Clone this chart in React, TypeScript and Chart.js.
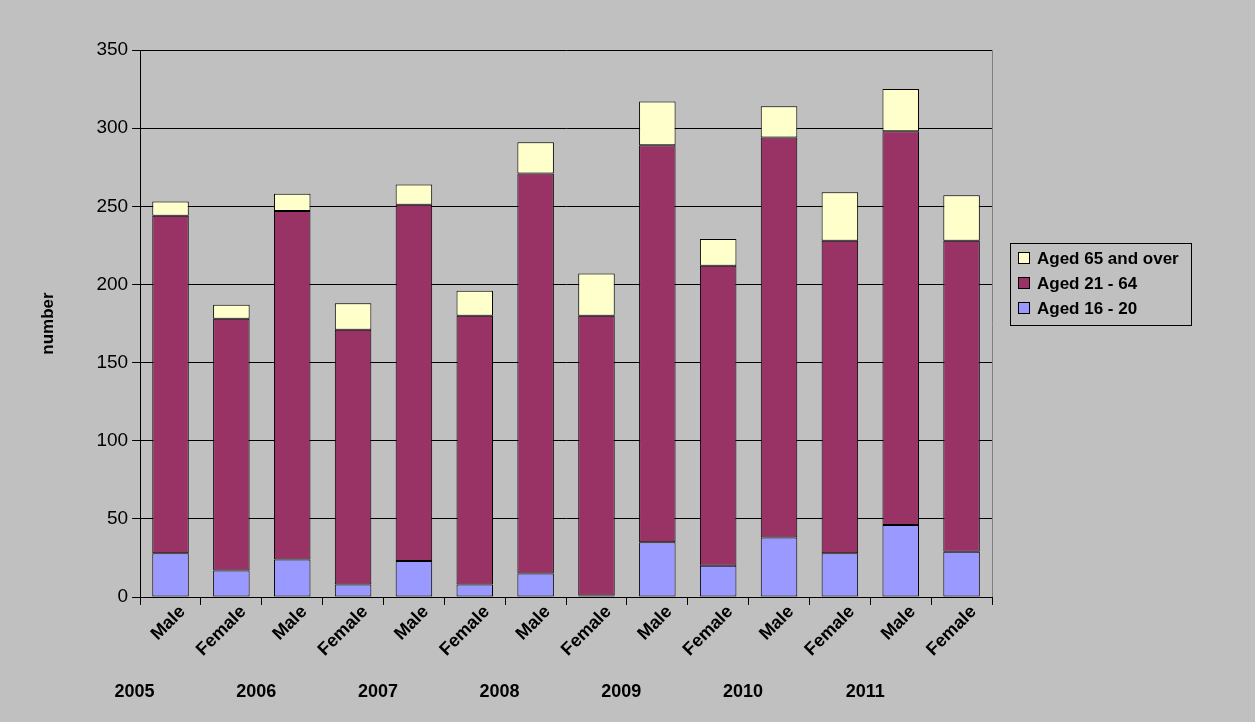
import React, { useEffect, useRef } from 'react';
import Chart from 'chart.js/auto';

const genders = ['Male', 'Female', 'Male', 'Female', 'Male', 'Female', 'Male', 'Female', 'Male', 'Female', 'Male', 'Female', 'Male', 'Female'];
const years = ['2005', '2006', '2007', '2008', '2009', '2010', '2011'];
const aged16to20 = [28, 17, 24, 8, 23, 8, 15, 1, 35, 20, 38, 28, 46, 29];
const aged21to64 = [216, 161, 223, 163, 228, 172, 256, 179, 254, 192, 256, 200, 252, 199];
const aged65plus = [9, 9, 11, 17, 13, 16, 20, 27, 28, 17, 20, 31, 27, 29];
const seriesNames = ['Aged 16 - 20', 'Aged 21 - 64', 'Aged 65 and over'];
const seriesColors = ['#9999ff', '#993366', '#ffffcc'];

const labelPlugin = {
  id: 'labels',
  afterDraw(chart: any) {
    const ctx = chart.ctx;
    const x = chart.scales.x;
    const area = chart.chartArea;
    const bottom = x.top;
    ctx.save();
    ctx.strokeStyle = '#808080';
    ctx.lineWidth = 1;
    ctx.beginPath();
    ctx.moveTo(Math.round(area.right) + 0.5, area.top);
    ctx.lineTo(Math.round(area.right) + 0.5, area.bottom);
    ctx.stroke();
    ctx.fillStyle = '#000';
    ctx.font = 'bold 18px Arial';
    genders.forEach((g, i) => {
      const px = x.getPixelForValue(i);
      ctx.save();
      ctx.translate(px + 12, bottom + 12);
      ctx.rotate(-Math.PI / 4);
      ctx.textAlign = 'right';
      ctx.textBaseline = 'middle';
      ctx.fillText(g, 0, 0);
      ctx.restore();
      if (i % 2 === 0) {
        ctx.textAlign = 'right';
        ctx.textBaseline = 'middle';
        ctx.fillText(years[i / 2], px - 16, bottom + 95);
      }
    });
    // legend
    const lx = 1010, ly = 243, lw = 181, lh = 82;
    ctx.fillStyle = '#c0c0c0';
    ctx.fillRect(lx, ly, lw, lh);
    ctx.strokeStyle = '#000';
    ctx.strokeRect(lx + 0.5, ly + 0.5, lw, lh);
    ctx.font = 'bold 17px Arial';
    ctx.textAlign = 'left';
    ctx.textBaseline = 'middle';
    for (let k = 0; k < 3; k++) {
      const idx = 2 - k;
      const cy = ly + 16 + k * 25;
      ctx.fillStyle = seriesColors[idx];
      ctx.fillRect(lx + 8.5, cy - 6.5, 11, 11);
      ctx.strokeRect(lx + 8.5, cy - 6.5, 11, 11);
      ctx.fillStyle = '#000';
      ctx.fillText(seriesNames[idx], lx + 27, cy);
    }
    ctx.restore();
  },
};

function App() {
  const chartRef = useRef<HTMLCanvasElement | null>(null);
  const chartInstance = useRef<Chart | null>(null);

  useEffect(() => {
    document.body.style.margin = '0';
    document.body.style.background = '#c0c0c0';
    if (chartInstance.current) chartInstance.current.destroy();
    const ctx = chartRef.current?.getContext('2d');
    if (ctx) {
      const ds = (i: number, data: number[]) => ({
        label: seriesNames[i],
        data,
        backgroundColor: seriesColors[i],
        borderColor: '#000',
        borderWidth: 1,
        borderSkipped: false,
        barPercentage: 0.6,
        categoryPercentage: 1,
      });
      chartInstance.current = new Chart(ctx, {
        type: 'bar',
        data: {
          labels: genders,
          datasets: [ds(0, aged16to20), ds(1, aged21to64), ds(2, aged65plus)],
        },
        options: {
          responsive: true,
          maintainAspectRatio: false,
          animation: false,
          layout: { padding: { top: 50, bottom: 117, right: 263, left: 38 } },
          plugins: {
            tooltip: { enabled: false },
            legend: { display: false },
          },
          scales: {
            x: {
              stacked: true,
              offset: true,
              border: { color: '#000' },
              grid: { offset: true, drawOnChartArea: false, drawTicks: true, tickLength: 8, color: '#000' },
              ticks: { display: false },
            },
            y: {
              stacked: true,
              min: 0,
              max: 350,
              border: { color: '#000' },
              grid: { color: '#000', tickLength: 8 },
              ticks: { stepSize: 50, color: '#000', padding: 4, font: { family: 'Arial', size: 19 } },
              title: { display: true, text: 'number', color: '#000', padding: { top: 0, bottom: 34 }, font: { family: 'Arial', size: 17, weight: 'bold' } },
            },
          },
        },
        plugins: [labelPlugin],
      });
    }
    return () => {
      if (chartInstance.current) chartInstance.current.destroy();
    };
  }, []);

  return (
    <div style={{ width: '1255px', height: '722px' }}>
      <canvas ref={chartRef} />
    </div>
  );
}

export default App;
